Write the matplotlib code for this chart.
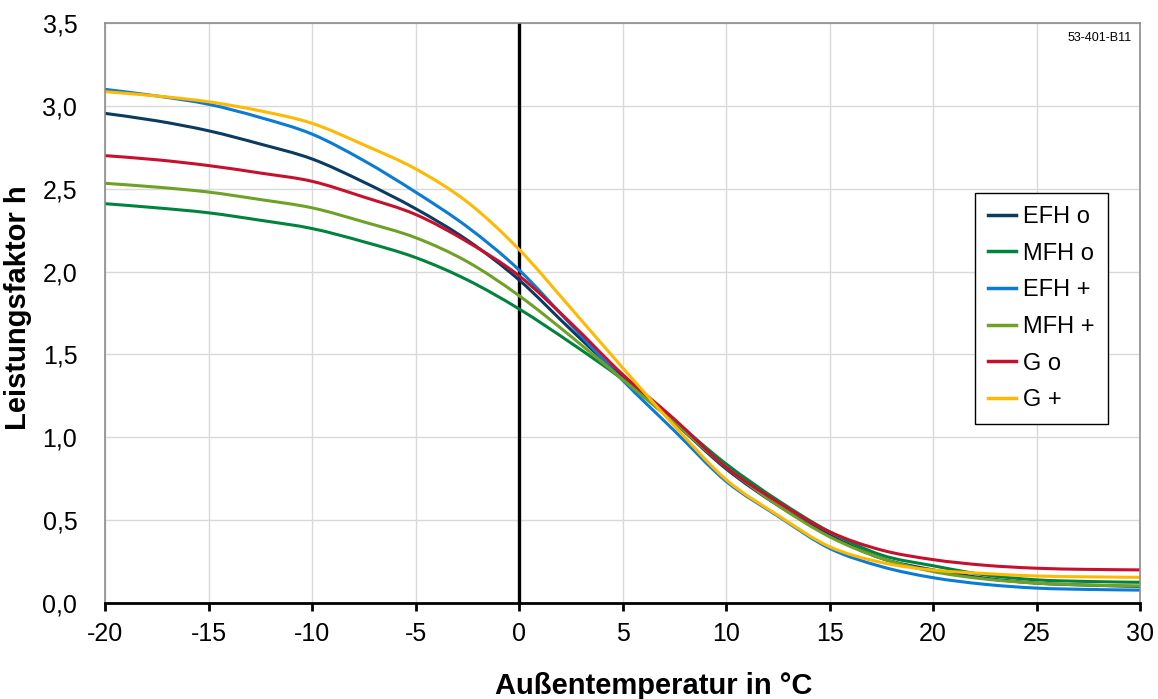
import matplotlib
matplotlib.use("Agg")
import matplotlib.pyplot as plt
from matplotlib.path import Path
from matplotlib.patches import PathPatch
from matplotlib.ticker import FuncFormatter

plt.rcParams["font.family"] = ["Liberation Sans", "DejaVu Sans"]
plt.rcParams["axes.unicode_minus"] = False

temps = [-20, -17.5, -15, -12.5, -10, -7.5, -5, -2.5, 0, 2.5, 5,
         7.5, 10, 12.5, 15, 17.5, 20, 22.5, 25, 27.5, 30]

efh_o = [2.955, 2.91, 2.85, 2.77, 2.68, 2.54, 2.38, 2.19, 1.95, 1.65, 1.36,
         1.09, 0.81, 0.59, 0.41, 0.27, 0.20, 0.15, 0.12, 0.108, 0.10]
mfh_o = [2.41, 2.385, 2.355, 2.31, 2.26, 2.18, 2.085, 1.95, 1.775, 1.57, 1.35,
         1.10, 0.84, 0.62, 0.43, 0.29, 0.225, 0.17, 0.14, 0.13, 0.125]
efh_p = [3.10, 3.06, 3.01, 2.93, 2.83, 2.67, 2.48, 2.27, 2.01, 1.68, 1.345,
         1.04, 0.735, 0.525, 0.33, 0.22, 0.153, 0.113, 0.09, 0.082, 0.078]
mfh_p = [2.533, 2.51, 2.48, 2.435, 2.385, 2.30, 2.205, 2.06, 1.855, 1.61, 1.35,
         1.09, 0.82, 0.59, 0.40, 0.27, 0.19, 0.145, 0.12, 0.108, 0.103]
g_o = [2.70, 2.675, 2.64, 2.595, 2.545, 2.45, 2.345, 2.18, 1.975, 1.69, 1.38,
       1.11, 0.82, 0.61, 0.43, 0.32, 0.262, 0.228, 0.21, 0.203, 0.20]
g_p = [3.086, 3.06, 3.025, 2.97, 2.895, 2.765, 2.62, 2.42, 2.134, 1.78, 1.42,
       1.07, 0.745, 0.53, 0.34, 0.245, 0.199, 0.178, 0.163, 0.158, 0.155]

names = ["EFH o", "MFH o", "EFH +", "MFH +", "G o", "G +"]
series = [efh_o, mfh_o, efh_p, mfh_p, g_o, g_p]
colors = ["#0B3B60", "#00843D", "#0A7BD6", "#6FA127", "#C8102E", "#FFB900"]

xticks = [-20, -15, -10, -5, 0, 5, 10, 15, 20, 25, 30]
yticks = [0.0, 0.5, 1.0, 1.5, 2.0, 2.5, 3.0, 3.5]


def smooth_path(xs, ys):
    # Excel-like smoothed line: cubic bezier segments through the data points
    pts = list(zip(xs, ys))
    verts = [pts[0]]
    codes = [Path.MOVETO]
    n = len(pts)
    for i in range(n - 1):
        p0 = pts[max(i - 1, 0)]
        p1 = pts[i]
        p2 = pts[i + 1]
        p3 = pts[min(i + 2, n - 1)]
        c1 = (p1[0] + (p2[0] - p0[0]) / 6, p1[1] + (p2[1] - p0[1]) / 6)
        c2 = (p2[0] - (p3[0] - p1[0]) / 6, p2[1] - (p3[1] - p1[1]) / 6)
        verts += [c1, c2, p2]
        codes += [Path.CURVE4] * 3
    return Path(verts, codes)


fig = plt.figure(figsize=(11.58, 6.99), dpi=100)
ax = fig.add_axes([0.0907, 0.1373, 0.8938, 0.8297])

for name, vals, c in zip(names, series, colors):
    patch = PathPatch(smooth_path(temps, vals), fill=False, edgecolor=c,
                      lw=2.2, capstyle="round", joinstyle="round", zorder=2)
    ax.add_patch(patch)
    ax.plot([], [], color=c, lw=2.5, label=name)

ax.axvline(0, color="black", lw=2.4, zorder=1.5)

ax.set_xlim(-20, 30)
ax.set_ylim(0, 3.5)
ax.set_xticks(xticks)
ax.set_yticks(yticks)
ax.yaxis.set_major_formatter(FuncFormatter(lambda v, p: f"{v:.1f}".replace(".", ",")))
ax.grid(True, color="#D9D9D9", lw=1)
ax.set_axisbelow(True)

for side in ["left", "top", "right"]:
    ax.spines[side].set_color("#8C8C8C")
    ax.spines[side].set_linewidth(1.2)
ax.spines["bottom"].set_color("black")
ax.spines["bottom"].set_linewidth(2)
ax.tick_params(axis="x", direction="out", length=6, width=2, labelsize=18, pad=8)
ax.tick_params(axis="y", length=0, labelsize=18, pad=20)

ax.set_xlabel("Außentemperatur in °C", fontsize=21, fontweight="bold", va="center")
ax.set_ylabel("Leistungsfaktor h", fontsize=21, fontweight="bold", va="center")
ax.xaxis.set_label_coords(0.53, -0.143)
ax.yaxis.set_label_coords(-0.084, 0.51)

ax.text(0.992, 0.985, "53-401-B11", transform=ax.transAxes, ha="right", va="top",
        fontsize=9)

leg = ax.legend(loc="upper right", bbox_to_anchor=(0.969, 0.707), fontsize=17,
                frameon=True, fancybox=False, edgecolor="black", framealpha=1,
                handlelength=1.2, handletextpad=0.3, labelspacing=0.62,
                borderpad=0.55, borderaxespad=0)
leg.get_frame().set_linewidth(1)

fig.savefig("out.png", dpi=100)
